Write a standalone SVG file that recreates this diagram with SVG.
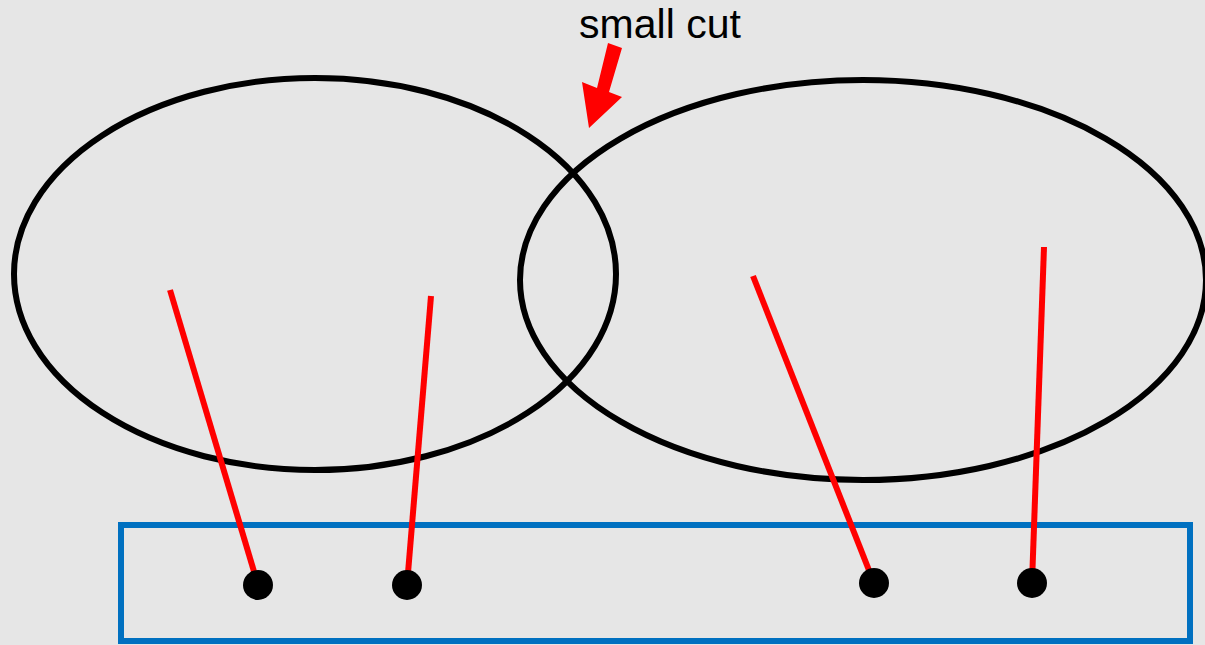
<svg xmlns="http://www.w3.org/2000/svg" width="1205" height="645" viewBox="0 0 1205 645">
<style>
.ell{fill:none;stroke:#000;stroke-width:6}
.wire{stroke:#ff0000;stroke-width:6;fill:none}
.dot{fill:#000}
.lbl{font-family:"Liberation Sans",Arial,sans-serif;font-size:41px;fill:#000}
</style>
<rect x="0" y="0" width="1205" height="645" fill="#e6e6e6"/>
<g id="box"><rect x="121" y="525" width="1069" height="116" fill="none" stroke="#0070c0" stroke-width="6"/></g>
<g id="ellipse-left"><ellipse class="ell" cx="315" cy="274" rx="301" ry="196"/></g>
<g id="ellipse-right"><ellipse class="ell" cx="863" cy="280" rx="343" ry="200"/></g>
<g id="connectors">
<line class="wire" x1="170" y1="290" x2="258" y2="585"/>
<line class="wire" x1="431" y1="296" x2="407" y2="585"/>
<line class="wire" x1="753" y1="276" x2="874" y2="583"/>
<line class="wire" x1="1044" y1="247" x2="1032" y2="583"/>
</g>
<g id="dots">
<circle class="dot" cx="258" cy="585" r="15"/>
<circle class="dot" cx="407" cy="585" r="15"/>
<circle class="dot" cx="874" cy="583" r="15"/>
<circle class="dot" cx="1032" cy="583" r="15"/>
</g>
<g id="small-cut">
<text class="lbl" x="660" y="38" text-anchor="middle">small cut</text>
<polygon fill="#ff0000" points="608,43 622,48 609,92 622,97 589,128 582,82 597,88"/>
</g>
</svg>
